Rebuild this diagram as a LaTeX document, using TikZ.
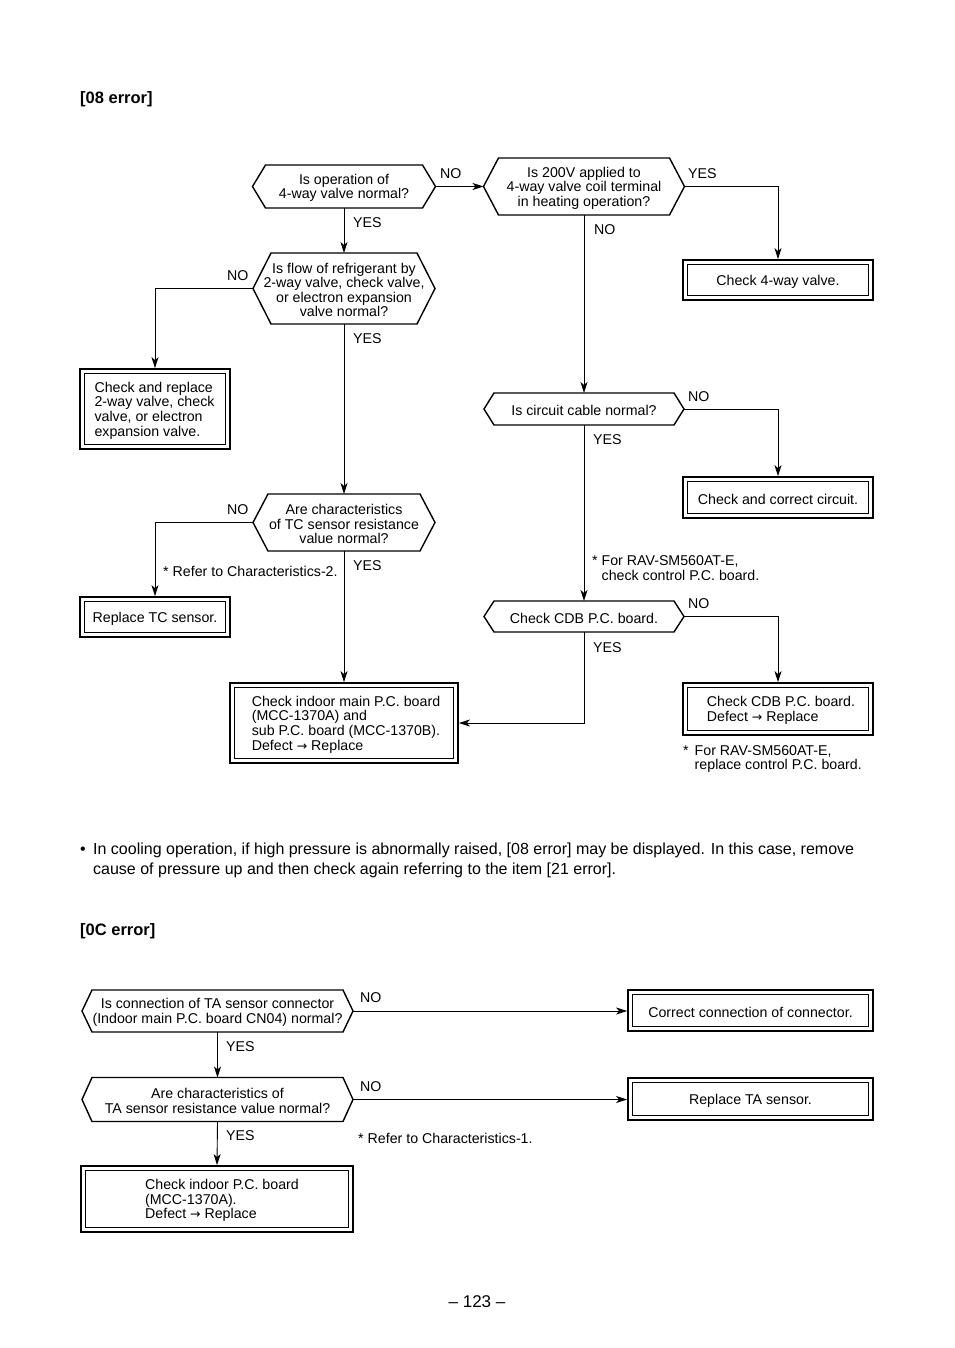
\documentclass[tikz,border=0pt]{standalone}
\usepackage{fontspec}
\setmainfont{Liberation Sans}
\newfontfamily\symfont{DejaVu Sans}
\usetikzlibrary{arrows.meta}
\newcommand{\bodyfont}{\fontsize{14.2}{14.6}\selectfont}
\newcommand{\parfont}{\fontsize{16}{20}\selectfont}
\newcommand{\headfont}{\fontsize{16.5}{20}\selectfont\bfseries}
\newcommand{\pagefont}{\fontsize{17}{20}\selectfont}
\newcommand{\toarr}{{\symfont\fontsize{12.5}{12}\selectfont →}}
\newcommand{\hexa}[7]{%
  \draw[hexline] (#2-#4/2,#3-#5/2) -- (#2+#4/2,#3-#5/2) -- (#2+#4/2+#6,#3) -- (#2+#4/2,#3+#5/2) -- (#2-#4/2,#3+#5/2) -- (#2-#4/2-#6,#3) -- cycle;
  \node[hexin, minimum width=#4, minimum height=#5] (#1) at (#2,#3+1.5) {#7};
  \coordinate (#1L) at (#2-#4/2-#6,#3);
  \coordinate (#1R) at (#2+#4/2+#6,#3);
  \coordinate (#1T) at (#2,#3-#5/2);
  \coordinate (#1B) at (#2,#3+#5/2);
}
\newcommand{\dbx}[7]{%
  \node[dbox, minimum width=#4, minimum height=#5] (#1) at (#2,#3) {};
  \node[boxtext] (#1t) at (#2+#6,#3+1.5) {#7};
  \draw[line width=0.9pt] ([shift={(5,5)}]#1.north west) rectangle ([shift={(-5,-5)}]#1.south east);
}
\begin{document}
\begin{tikzpicture}[x=1pt,y=-1pt,
  conn/.style={line width=0.9pt},
  arr/.style={conn,-{Stealth[length=11pt,width=7pt,inset=3pt]}},
  hexline/.style={line width=1.4pt, line join=miter},
  hexin/.style={inner sep=0pt, align=center, font=\bodyfont},
  dbox/.style={draw, line width=1.8pt, inner sep=0pt},
  boxtext/.style={inner sep=0pt, align=left, font=\bodyfont},
  lbl/.style={anchor=west, inner sep=0pt, font=\bodyfont, align=left, yshift=-1.2pt},
  txt/.style={anchor=west, inner sep=0pt, font=\parfont, yshift=-1.5pt},
]
\useasboundingbox[fill=white] (0,0) rectangle (954,1348);

% headings
\node[anchor=west, inner sep=0pt, font=\headfont, yshift=-1.5pt] (head1) at (80,98) {[08 error]};
\node[anchor=west, inner sep=0pt, font=\headfont, yshift=-1.5pt] (head2) at (80,930) {[0C error]};

% decisions
\hexa{h1}{344}{186.5}{157}{43}{13}{Is operation of\\4-way valve normal?}
\hexa{h2}{584}{186.5}{171}{57}{15}{Is 200V applied to\\4-way valve coil terminal\\in heating operation?}
\hexa{h3}{344}{288.5}{146}{71}{18}{Is flow of refrigerant by\\2-way valve, check valve,\\or electron expansion\\valve normal?}
\hexa{h4}{584}{409}{180}{32}{10}{Is circuit cable normal?}
\hexa{h5}{584}{616.5}{180}{31}{10}{Check CDB P.C. board.}
\hexa{h6}{344}{522.5}{152}{57}{15}{Are characteristics\\of TC sensor resistance\\value normal?}
\hexa{h7}{217.5}{1011}{251}{42}{10}{Is connection of TA sensor connector\\(Indoor main P.C. board CN04) normal?}
\hexa{h8}{217.5}{1099.5}{251}{44}{10}{Are characteristics of\\TA sensor resistance value normal?}

% boxes
\dbx{b1}{778}{280}{190}{40}{0}{Check 4-way valve.}
\dbx{b2}{155}{409}{150}{80}{-0.5}{Check and replace\\2-way valve, check\\valve, or electron\\expansion valve.}
\dbx{b3}{778}{497.5}{190}{41}{0}{Check and correct circuit.}
\dbx{b4}{155}{617}{150}{40}{0}{Replace TC sensor.}
\dbx{b5}{344}{723}{228}{80}{2}{Check indoor main P.C. board\\(MCC-1370A) and\\sub P.C. board (MCC-1370B).\\Defect \toarr{} Replace}
\dbx{b6}{778}{709}{190}{52}{3}{Check CDB P.C. board.\\Defect \toarr{} Replace}
\dbx{b7}{750.5}{1010.5}{245}{41}{0}{Correct connection of connector.}
\dbx{b8}{750.5}{1099}{245}{42}{0}{Replace TA sensor.}
\dbx{b9}{217}{1199}{272}{66}{5}{Check indoor P.C. board\\(MCC-1370A).\\Defect \toarr{} Replace}

% connectors
\draw[arr] (h1B) -- (h3T);
\draw[arr] (h1R) -- (h2L);
\draw[arr] (h2R) -| (b1.north);
\draw[arr] (h2B) -- (h4T);
\draw[arr] (h4R) -| (b3.north);
\draw[arr] (h4B) -- (h5T);
\draw[arr] (h5R) -| (b6.north);
\draw[arr] (h5B) |- (b5.east);
\draw[arr] (h3L) -| (b2.north);
\draw[arr] (h3B) -- (h6T);
\draw[arr] (h6L) -| (b4.north);
\draw[arr] (h6B) -- (b5.north);
\draw[arr] (h7R) -- (h7R -| b7.west);
\draw[arr] (h7B) -- (h8T);
\draw[arr] (h8R) -- (h8R -| b8.west);
\draw[arr] (h8B) -- (b9.north);

% labels
\node[lbl] (l1) at (440,172) {NO};
\node[lbl] (l2) at (353,221) {YES};
\node[lbl] (l3) at (688,172) {YES};
\node[lbl] (l4) at (594,228) {NO};
\node[lbl] (l5) at (227,274) {NO};
\node[lbl] (l6) at (353,337) {YES};
\node[lbl] (l7) at (688,395) {NO};
\node[lbl] (l8) at (593,438) {YES};
\node[lbl] (l9) at (688,602) {NO};
\node[lbl] (l10) at (593,646) {YES};
\node[lbl] (l11) at (227,508) {NO};
\node[lbl] (l12) at (353,564) {YES};
\node[lbl] (l13) at (360,996) {NO};
\node[lbl] (l14) at (226,1045) {YES};
\node[lbl] (l15) at (360,1085) {NO};
\node[lbl] (l16) at (226,1134) {YES};

% notes
\node[lbl] (n1) at (592,567) {* For RAV-SM560AT-E,\\\hphantom{* }check control P.C. board.};
\node[lbl] (n2) at (683,758) {*\hspace{6pt}For RAV-SM560AT-E,\\\hphantom{*\hspace{6pt}}replace control P.C. board.};
\node[lbl] (n3) at (163,570) {* Refer to Characteristics-2.};
\node[lbl] (n4) at (358,1137) {* Refer to Characteristics-1.};

% paragraph
\node[txt] (bul) at (80,849) {•};
\node[txt] (p1) at (93,849) {In cooling operation, if high pressure is abnormally raised, [08 error] may be displayed. In this case, remove};
\node[txt] (p2) at (93,869) {cause of pressure up and then check again referring to the item [21 error].};

% page number
\node[inner sep=0pt, font=\pagefont, yshift=-1.5pt] (pg) at (477,1300) {– 123 –};
\end{tikzpicture}
\end{document}
